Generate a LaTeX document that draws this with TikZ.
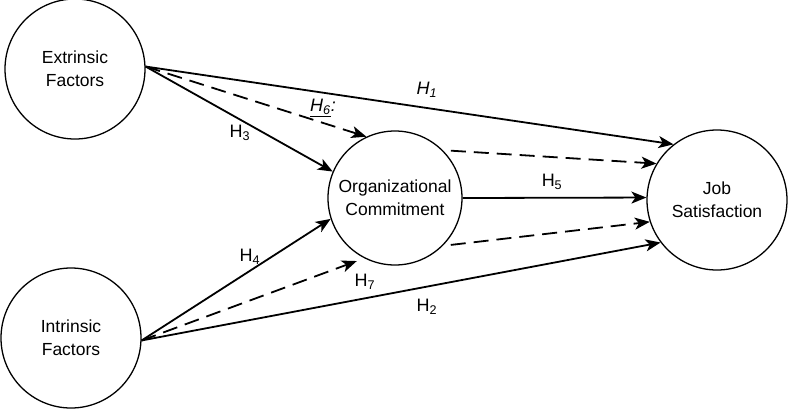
\documentclass[tikz,border=0pt]{standalone}
\usepackage{fontspec}
\setmainfont{Liberation Sans}
\usepackage{tikz}
\usetikzlibrary{positioning, arrows.meta}

\begin{document}
\begin{tikzpicture}[x=1pt, y=-1pt,
    % --- Definiamo stili per i nodi ---
    construct/.style={circle, draw=black, line width=1.3pt, minimum size=140pt, inner sep=0, align=center, font=\fontsize{17.5}{23}\selectfont},
    path_arrow/.style={line width=1.8pt, -{Stealth[length=15pt, width=12pt, inset=4pt]}},
    dashed_arrow/.style={path_arrow, dash pattern=on 15pt off 8pt},
    hyp_label/.style={inner sep=0, font=\fontsize{18}{20}\selectfont}
]

% 1. Fissare il riquadro esterno
\useasboundingbox (0,0) rectangle (788,408);

% 2. Posizionare i costrutti
\node (ext) [construct] at (75,69) {Extrinsic\\Factors};
\node (int) [construct] at (71,338) {Intrinsic\\Factors};
\node (org) [construct, minimum size=134pt] at (395,198) {Organizational\\Commitment};
\node (job) [construct] at (717,200) {Job\\Satisfaction};

% 3. Disegnare le frecce tra i costrutti
\draw[path_arrow] (ext.2) -- (job.128);
\draw[path_arrow] (ext.2) -- (org.157);
\draw[dashed_arrow] (ext.2) -- (org.115);
\draw[path_arrow] (int.-2) -- (org.198);
\draw[dashed_arrow, shorten >=8pt] (int.-2) -- (org.243);
\draw[path_arrow] (int.-2) -- (job.217);
\draw[path_arrow] (org.east) -- (job.178);
\draw[dashed_arrow, shorten <=8pt] (org.45) -- (job.149);
\draw[dashed_arrow, shorten <=8pt] (org.-45) -- (job.198);

% 4. Aggiungere le etichette delle ipotesi
\node (h1) [hyp_label] at (427,90) {\textit{H\textsubscript{1}}};
\node (h2) [hyp_label] at (427,307) {H\textsubscript{2}};
\node (h3) [hyp_label] at (240,133) {H\textsubscript{3}};
\node (h4) [hyp_label] at (250,257) {H\textsubscript{4}};
\node (h5) [hyp_label] at (552,182) {H\textsubscript{5}};
\node (h6) [hyp_label] at (323,108) {\textit{\underline{H\textsubscript{6}}:}};
\node (h7) [hyp_label] at (365,282) {H\textsubscript{7}};
\end{tikzpicture}
\end{document}
